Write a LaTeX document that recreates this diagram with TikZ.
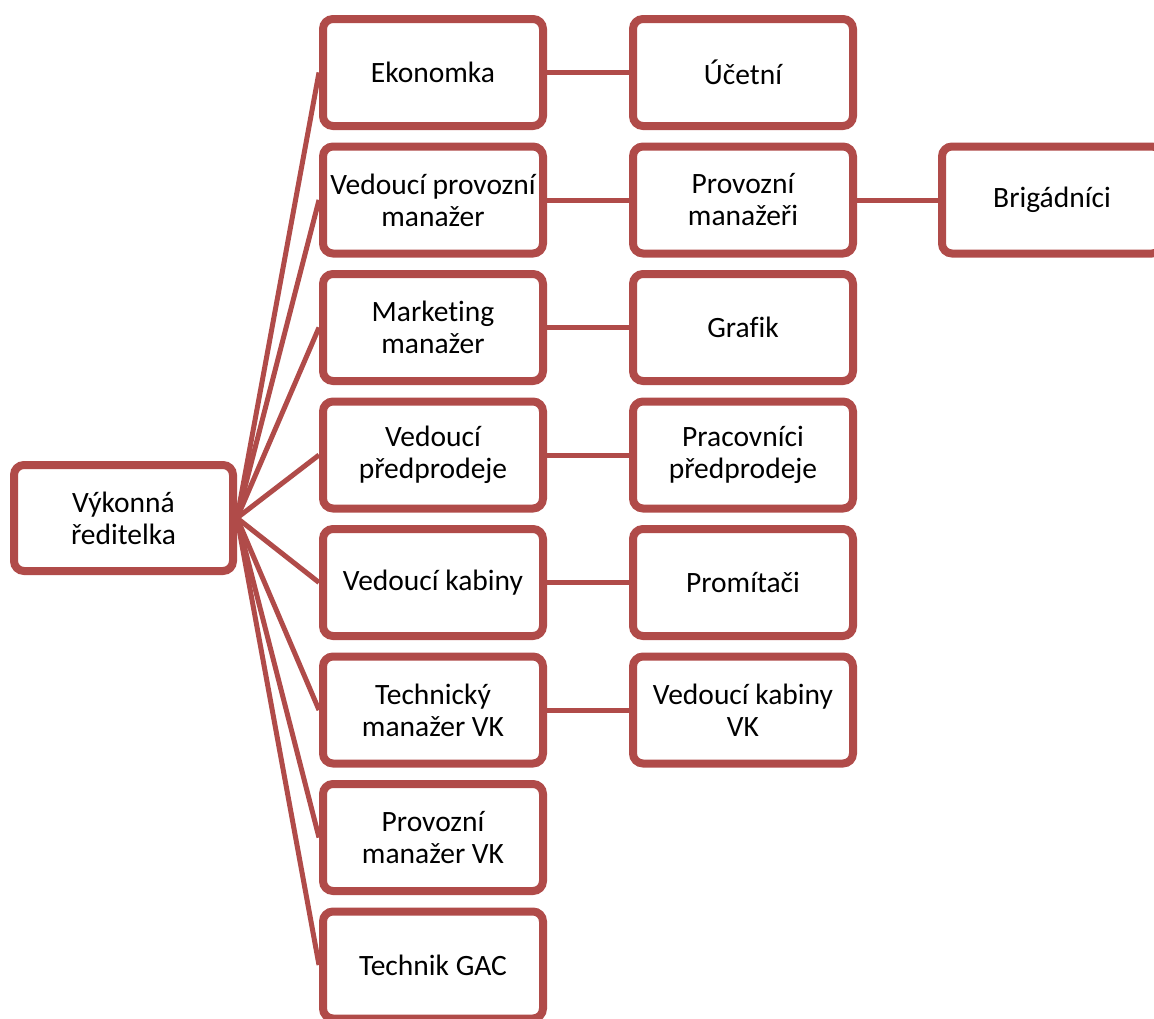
\documentclass[tikz,border=0pt]{standalone}
\usepackage{fontspec}
\setmainfont{Carlito}[Ligatures=NoCommon]
\usetikzlibrary{shadows,backgrounds}
\definecolor{rim}{RGB}{176,75,73}
\begin{document}
\begin{tikzpicture}[x=1pt,y=-1pt,
unit/.style={%
draw=rim,
line width=8pt,
rounded corners=10pt,
fill=white,
minimum width=220pt,
minimum height=107pt,
align=center,
font=\fontsize{29.5}{32}\selectfont,
drop shadow={shadow xshift=1.5pt,shadow yshift=-2pt,opacity=0.25}
},
link/.style={%
draw=rim,
line width=5pt
},
]
\useasboundingbox (0,0) rectangle (1154,1018);
\clip (0,0) rectangle (1154,1018);
%% Director
\node[unit,minimum width=219pt,minimum height=106pt](vr)at(123.5,518){Výkonná\\ředitelka};
%% Second level
\node[unit](ek)at(433,72.5){Ekonomka};
\node[unit](vpm)at(433,200){Vedoucí provozní\\manažer};
\node[unit](mm)at(433,327.5){Marketing\\manažer};
\node[unit](vp)at(433,455){Vedoucí\\předprodeje};
\node[unit](vk)at(433,582.5){Vedoucí kabiny};
\node[unit](tm)at(433,710){Technický\\manažer VK};
\node[unit](pm)at(433,837.5){Provozní\\manažer VK};
\node[unit](tg)at(433,965){Technik GAC};
%% Third level
\node[unit](uc)at(743,72.5){Účetní};
\node[unit](prm)at(743,200){Provozní\\manažeři};
\node[unit](gr)at(743,327.5){Grafik};
\node[unit](pp)at(743,455){Pracovníci\\předprodeje};
\node[unit](pr)at(743,582.5){Promítači};
\node[unit](vkv)at(743,710){Vedoucí kabiny\\VK};
%% Fourth level
\node[unit](br)at(1052,200){Brigádníci};
%% Links
\begin{scope}[on background layer]
\foreach \t in {ek,vpm,mm,vp,vk,tm,pm,tg}{%
\draw[link] (vr.east)--(\t.west);
}
\draw[link] (ek.east)--(uc.west);
\draw[link] (vpm.east)--(prm.west);
\draw[link] (mm.east)--(gr.west);
\draw[link] (vp.east)--(pp.west);
\draw[link] (vk.east)--(pr.west);
\draw[link] (tm.east)--(vkv.west);
\draw[link] (prm.east)--(br.west);
\end{scope}
\end{tikzpicture}
\end{document}
